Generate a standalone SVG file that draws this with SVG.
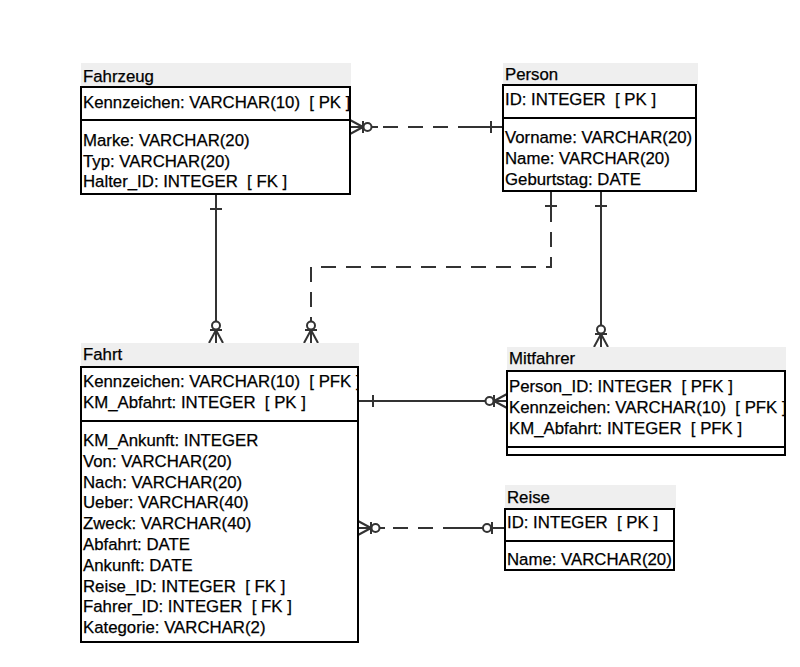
<svg xmlns="http://www.w3.org/2000/svg" xmlns:xlink="http://www.w3.org/1999/xlink" width="800" height="667" viewBox="0 0 800 667">
<style>
.band{fill:#efefef;stroke:none}
.box{fill:#ffffff;stroke:#000000;stroke-width:2}
.div{stroke:#000000;stroke-width:2}
text{font-family:"Liberation Sans",Arial,sans-serif;font-size:16.8px;fill:#000000;stroke:#000000;stroke-width:0.25;white-space:pre}
.ln{fill:none;stroke:#333333;stroke-width:2}
.dash{fill:none;stroke:#333333;stroke-width:2;stroke-dasharray:15 10}
.gl{fill:none;stroke:#333333;stroke-width:2}
.gc{fill:#ffffff;stroke:#333333;stroke-width:2}
</style>
<defs>
<g id="manyOpt">
<path class="gl" d="M0,-7 L13,0 M0,7 L13,0 M0,0 L13,0 M13,-6 V6"/>
<circle class="gc" cx="17.5" cy="0" r="4"/>
</g>
<g id="one">
<path class="gl" d="M0,-6 V6"/>
</g>
<g id="oneOpt">
<path class="gl" d="M13,-6 V6"/>
<circle class="gc" cx="18" cy="0" r="4"/>
</g>
<clipPath id="cFahrzeug"><rect x="81" y="63" width="268" height="131"/></clipPath>
<clipPath id="cPerson"><rect x="503" y="63" width="192" height="128"/></clipPath>
<clipPath id="cFahrt"><rect x="81" y="343" width="276" height="299"/></clipPath>
<clipPath id="cMitfahrer"><rect x="507" y="347" width="277" height="108"/></clipPath>
<clipPath id="cReise"><rect x="505" y="485" width="168" height="85"/></clipPath>
</defs>
<rect width="800" height="667" fill="#ffffff"/>

<g id="connectors">
<!-- Fahrzeug - Person -->
<path class="ln" d="M350,127 H378"/>
<path class="dash" d="M383,127 H460"/>
<path class="ln" d="M460,127 H503"/>
<use xlink:href="#manyOpt" transform="translate(350,127)"/>
<use xlink:href="#one" transform="translate(491,127)"/>
<!-- Fahrzeug - Fahrt -->
<path class="ln" d="M216,194 V330"/>
<use xlink:href="#one" transform="translate(216,209) rotate(90)"/>
<use xlink:href="#manyOpt" transform="translate(216,343) rotate(-90)"/>
<!-- Person - Fahrt (dashed) -->
<path class="ln" d="M551,191 V222"/>
<path class="dash" d="M551,232 V267 H311 V322"/>
<use xlink:href="#one" transform="translate(551,206) rotate(90)"/>
<use xlink:href="#manyOpt" transform="translate(311,343) rotate(-90)"/>
<!-- Person - Mitfahrer -->
<path class="ln" d="M601,191 V334"/>
<use xlink:href="#one" transform="translate(601,206) rotate(90)"/>
<use xlink:href="#manyOpt" transform="translate(601,347) rotate(-90)"/>
<!-- Fahrt - Mitfahrer -->
<path class="ln" d="M358,401 H494"/>
<use xlink:href="#one" transform="translate(373,401)"/>
<use xlink:href="#manyOpt" transform="translate(507,401) rotate(180)"/>
<!-- Fahrt - Reise (dashed) -->
<path class="ln" d="M358,528 H385"/>
<path class="dash" d="M393,528 H458"/>
<path class="ln" d="M458,528 H505"/>
<use xlink:href="#manyOpt" transform="translate(358,528)"/>
<use xlink:href="#oneOpt" transform="translate(505,528) rotate(180)"/>
</g>

<g id="Fahrzeug">
<rect class="band" x="81" y="63" width="270" height="24"/>
<rect class="box" x="81" y="87" width="269" height="107"/>
<line class="div" x1="81" y1="120" x2="350" y2="120"/>
<g clip-path="url(#cFahrzeug)">
<text x="83" y="82">Fahrzeug</text>
<text x="83" y="108">Kennzeichen: VARCHAR(10)  [ PK ]</text>
<text x="83" y="146">Marke: VARCHAR(20)</text>
<text x="83" y="167">Typ: VARCHAR(20)</text>
<text x="83" y="187">Halter_ID: INTEGER  [ FK ]</text>
</g>
</g>

<g id="Person">
<rect class="band" x="503" y="63" width="195" height="22"/>
<rect class="box" x="503" y="85" width="193" height="106"/>
<line class="div" x1="503" y1="118" x2="696" y2="118"/>
<g clip-path="url(#cPerson)">
<text x="505" y="80">Person</text>
<text x="505" y="105">ID: INTEGER  [ PK ]</text>
<text x="505" y="143">Vorname: VARCHAR(20)</text>
<text x="505" y="164">Name: VARCHAR(20)</text>
<text x="505" y="185">Geburtstag: DATE</text>
</g>
</g>

<g id="Fahrt">
<rect class="band" x="81" y="343" width="278" height="24"/>
<rect class="box" x="81" y="367" width="277" height="275"/>
<line class="div" x1="81" y1="421" x2="358" y2="421"/>
<g clip-path="url(#cFahrt)">
<text x="83" y="360">Fahrt</text>
<text x="83" y="387">Kennzeichen: VARCHAR(10)  [ PFK ]</text>
<text x="83" y="408">KM_Abfahrt: INTEGER  [ PK ]</text>
<text x="83" y="446">KM_Ankunft: INTEGER</text>
<text x="83" y="467">Von: VARCHAR(20)</text>
<text x="83" y="488">Nach: VARCHAR(20)</text>
<text x="83" y="508">Ueber: VARCHAR(40)</text>
<text x="83" y="529">Zweck: VARCHAR(40)</text>
<text x="83" y="550">Abfahrt: DATE</text>
<text x="83" y="571">Ankunft: DATE</text>
<text x="83" y="592">Reise_ID: INTEGER  [ FK ]</text>
<text x="83" y="612">Fahrer_ID: INTEGER  [ FK ]</text>
<text x="83" y="633">Kategorie: VARCHAR(2)</text>
</g>
</g>

<g id="Mitfahrer">
<rect class="band" x="507" y="347" width="279" height="24"/>
<rect class="box" x="507" y="371" width="278" height="84"/>
<line class="div" x1="507" y1="447" x2="785" y2="447"/>
<g clip-path="url(#cMitfahrer)">
<text x="509" y="364">Mitfahrer</text>
<text x="509" y="392">Person_ID: INTEGER  [ PFK ]</text>
<text x="509" y="413">Kennzeichen: VARCHAR(10)  [ PFK ]</text>
<text x="509" y="434">KM_Abfahrt: INTEGER  [ PFK ]</text>
</g>
</g>

<g id="Reise">
<rect class="band" x="505" y="485" width="171" height="24"/>
<rect class="box" x="505" y="509" width="169" height="61"/>
<line class="div" x1="505" y1="541" x2="674" y2="541"/>
<g clip-path="url(#cReise)">
<text x="507" y="503">Reise</text>
<text x="507" y="528">ID: INTEGER  [ PK ]</text>
<text x="507" y="565">Name: VARCHAR(20)</text>
</g>
</g>
</svg>
